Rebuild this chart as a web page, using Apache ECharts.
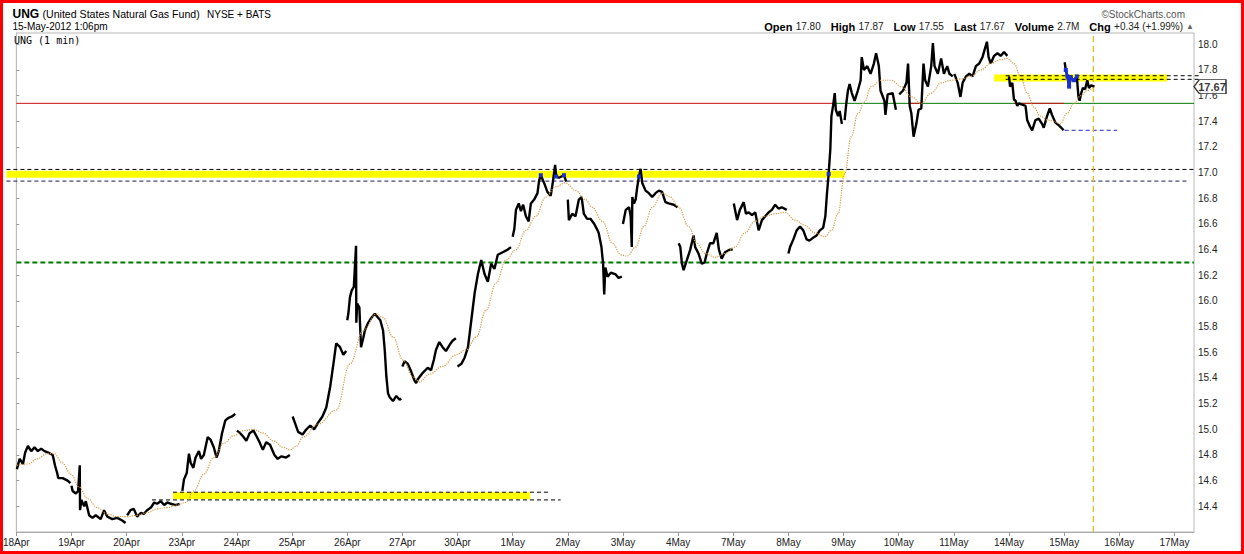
<!DOCTYPE html>
<html><head><meta charset="utf-8">
<script src="https://cdn.jsdelivr.net/npm/echarts/dist/echarts.min.js"></script>
<style>html,body{margin:0;padding:0;background:#fff}#c{width:1244px;height:554px}</style>
</head><body><div id="c"></div>
<script>
// ---- data ----
const dayLabels = ['18Apr','19Apr','20Apr','23Apr','24Apr','25Apr','26Apr','27Apr','30Apr','1May','2May','3May','4May','7May','8May','9May','10May','11May','14May','15May','16May','17May'];

// [trading-day index (fraction of session), price]
const pricePoints = [
[0.01,14.69],[0.06,14.77],[0.12,14.73],[0.16,14.82],[0.21,14.87],[0.27,14.83],[0.33,14.86],[0.39,14.83],[0.45,14.85],[0.51,14.83],[0.57,14.82],[0.66,14.80],[0.70,14.72],[0.74,14.66],[0.76,14.62],[0.84,14.62],[0.93,14.60],[0.98,14.58],
[1.00,14.56],[1.02,14.52],[1.08,14.50],[1.12,14.52],[1.15,14.72],[1.155,14.37],[1.18,14.45],[1.23,14.40],[1.26,14.44],[1.32,14.33],[1.38,14.31],[1.44,14.33],[1.53,14.30],[1.59,14.37],[1.65,14.32],[1.74,14.30],[1.83,14.31],[1.92,14.29],[1.98,14.27],
[2.01,14.33],[2.07,14.37],[2.13,14.38],[2.19,14.32],[2.26,14.35],[2.31,14.34],[2.37,14.37],[2.44,14.39],[2.50,14.43],[2.55,14.42],[2.62,14.44],[2.68,14.41],[2.74,14.43],[2.80,14.42],[2.89,14.41],[2.96,14.42],
[3.01,14.52],[3.04,14.61],[3.09,14.66],[3.13,14.81],[3.16,14.74],[3.21,14.70],[3.25,14.78],[3.31,14.83],[3.35,14.77],[3.40,14.80],[3.47,14.94],[3.52,14.92],[3.58,14.86],[3.63,14.78],[3.67,14.83],[3.73,14.97],[3.79,15.07],[3.85,15.09],[3.91,15.10],[3.97,15.12],
[4.00,14.99],[4.06,14.97],[4.12,14.94],[4.17,14.91],[4.23,14.97],[4.30,14.99],[4.35,14.95],[4.41,14.90],[4.47,14.84],[4.53,14.90],[4.60,14.88],[4.68,14.80],[4.74,14.77],[4.81,14.79],[4.89,14.78],[4.96,14.80],
[5.01,15.10],[5.06,15.04],[5.11,14.98],[5.19,14.96],[5.26,15.00],[5.33,15.03],[5.40,15.00],[5.47,15.05],[5.55,15.10],[5.62,15.17],[5.69,15.33],[5.75,15.51],[5.80,15.67],[5.87,15.64],[5.93,15.58],[5.98,15.61],
[6.00,15.85],[6.02,15.90],[6.05,16.03],[6.08,16.08],[6.12,16.11],[6.16,16.43],[6.165,15.83],[6.18,15.98],[6.22,15.95],[6.25,15.64],[6.29,15.71],[6.32,15.77],[6.38,15.83],[6.44,15.87],[6.50,15.90],[6.56,15.87],[6.60,15.85],[6.65,15.77],[6.68,15.62],[6.71,15.41],[6.74,15.28],[6.77,15.25],[6.83,15.22],[6.89,15.26],[6.95,15.23],[6.98,15.24],
[7.00,15.49],[7.04,15.53],[7.10,15.51],[7.16,15.45],[7.22,15.38],[7.25,15.36],[7.28,15.39],[7.37,15.44],[7.46,15.48],[7.52,15.46],[7.57,15.54],[7.61,15.62],[7.67,15.68],[7.73,15.64],[7.79,15.61],[7.86,15.66],[7.91,15.69],[7.97,15.71],
[8.00,15.49],[8.07,15.51],[8.13,15.56],[8.19,15.64],[8.25,15.85],[8.31,16.06],[8.37,16.21],[8.43,16.32],[8.49,16.21],[8.55,16.15],[8.61,16.29],[8.67,16.25],[8.73,16.36],[8.82,16.38],[8.91,16.40],[8.97,16.42],
[9.00,16.50],[9.03,16.56],[9.06,16.71],[9.11,16.76],[9.15,16.70],[9.19,16.75],[9.24,16.66],[9.29,16.62],[9.33,16.76],[9.39,16.79],[9.45,16.84],[9.48,16.94],[9.51,16.98],[9.57,16.92],[9.63,16.85],[9.69,16.82],[9.73,16.93],[9.77,17.06],[9.79,16.97],[9.84,16.96],[9.93,16.98],[9.97,16.93],
[10.00,16.79],[10.02,16.63],[10.08,16.68],[10.14,16.66],[10.20,16.79],[10.25,16.81],[10.29,16.68],[10.35,16.64],[10.41,16.64],[10.48,16.60],[10.54,16.55],[10.56,16.53],[10.61,16.42],[10.64,16.29],[10.66,16.05],[10.68,16.26],[10.72,16.19],[10.78,16.22],[10.86,16.21],[10.92,16.18],[10.98,16.19],
[11.00,16.60],[11.05,16.71],[11.11,16.73],[11.14,16.66],[11.16,16.42],[11.17,16.81],[11.20,16.76],[11.23,16.79],[11.26,16.89],[11.29,16.97],[11.32,17.03],[11.35,16.92],[11.41,16.86],[11.47,16.84],[11.53,16.81],[11.59,16.84],[11.65,16.86],[11.71,16.85],[11.74,16.81],[11.77,16.77],[11.83,16.76],[11.92,16.75],[11.99,16.73],
[12.01,16.45],[12.04,16.42],[12.07,16.29],[12.10,16.24],[12.16,16.32],[12.22,16.40],[12.28,16.51],[12.31,16.42],[12.37,16.37],[12.43,16.29],[12.48,16.30],[12.52,16.37],[12.58,16.45],[12.64,16.45],[12.70,16.53],[12.74,16.40],[12.79,16.33],[12.85,16.38],[12.94,16.40],[12.99,16.40],
[13.01,16.76],[13.07,16.63],[13.12,16.71],[13.19,16.77],[13.23,16.68],[13.28,16.69],[13.34,16.67],[13.40,16.69],[13.46,16.55],[13.52,16.63],[13.58,16.66],[13.64,16.69],[13.70,16.71],[13.76,16.75],[13.82,16.72],[13.88,16.73],[13.97,16.71],
[14.00,16.37],[14.03,16.42],[14.09,16.48],[14.15,16.55],[14.21,16.58],[14.27,16.55],[14.33,16.48],[14.38,16.47],[14.44,16.49],[14.51,16.51],[14.57,16.55],[14.63,16.57],[14.67,16.66],[14.70,16.84],[14.73,16.99],[14.76,17.18],[14.78,17.44],[14.81,17.52],[14.84,17.62],[14.86,17.49],[14.90,17.44],[14.93,17.48],[14.97,17.38],
[15.02,17.41],[15.05,17.54],[15.08,17.64],[15.11,17.69],[15.15,17.62],[15.20,17.56],[15.26,17.64],[15.31,17.72],[15.33,17.90],[15.37,17.80],[15.43,17.83],[15.49,17.77],[15.55,17.85],[15.59,17.93],[15.64,17.83],[15.67,17.64],[15.74,17.56],[15.76,17.45],[15.80,17.61],[15.89,17.62],[15.95,17.49],
[16.01,17.61],[16.08,17.64],[16.14,17.70],[16.17,17.85],[16.20,17.52],[16.23,17.46],[16.27,17.28],[16.32,17.38],[16.36,17.49],[16.41,17.50],[16.45,17.85],[16.48,17.72],[16.53,17.67],[16.59,17.83],[16.62,18.01],[16.65,17.83],[16.71,17.77],[16.77,17.89],[16.82,17.77],[16.88,17.83],[16.92,17.77],[16.98,17.75],
[17.01,17.77],[17.07,17.70],[17.12,17.59],[17.16,17.70],[17.22,17.75],[17.28,17.77],[17.34,17.75],[17.40,17.83],[17.46,17.85],[17.52,17.90],[17.56,17.96],[17.60,18.02],[17.63,17.90],[17.67,17.85],[17.73,17.91],[17.79,17.93],[17.85,17.91],[17.91,17.94],[17.97,17.91],
[18.00,17.75],[18.02,17.67],[18.06,17.70],[18.09,17.57],[18.12,17.56],[18.15,17.52],[18.18,17.54],[18.24,17.53],[18.30,17.52],[18.33,17.41],[18.38,17.36],[18.42,17.33],[18.48,17.41],[18.54,17.42],[18.60,17.38],[18.63,17.35],[18.69,17.44],[18.74,17.50],[18.78,17.45],[18.84,17.39],[18.90,17.37],[18.97,17.34],[18.99,17.33],
[19.01,17.86],[19.03,17.80],[19.06,17.75],[19.09,17.67],[19.12,17.74],[19.18,17.72],[19.23,17.75],[19.26,17.59],[19.28,17.56],[19.31,17.62],[19.34,17.66],[19.38,17.65],[19.42,17.72],[19.45,17.66],[19.49,17.68],[19.55,17.67]
];

// moving average overlay [day, value]
const maPoints = [
[0.01,14.72],[0.21,14.73],[0.38,14.77],[0.56,14.81],[0.69,14.81],[0.83,14.74],[0.99,14.65],[1.14,14.55],[1.29,14.46],[1.47,14.39],[1.65,14.34],[1.83,14.32],[2.01,14.32],[2.19,14.33],[2.37,14.35],[2.55,14.38],[2.74,14.39],[2.92,14.41],[3.07,14.43],[3.22,14.52],[3.40,14.65],[3.58,14.78],[3.76,14.89],[3.94,14.95],[4.12,14.99],[4.30,15.00],[4.48,14.97],[4.66,14.91],[4.84,14.86],[4.96,14.84],[5.08,14.87],[5.20,14.94],[5.47,15.04],[5.80,15.15],[6.05,15.51],[6.29,15.77],[6.53,15.90],[6.65,15.87],[6.83,15.72],[7.01,15.54],[7.19,15.41],[7.31,15.37],[7.49,15.43],[7.73,15.49],[7.97,15.58],[8.16,15.62],[8.34,15.72],[8.52,15.93],[8.70,16.14],[8.88,16.32],[9.06,16.40],[9.24,16.55],[9.42,16.66],[9.60,16.81],[9.78,16.89],[9.96,16.92],[10.14,16.86],[10.32,16.79],[10.44,16.73],[10.63,16.62],[10.81,16.45],[10.96,16.36],[11.08,16.35],[11.23,16.42],[11.38,16.58],[11.53,16.73],[11.71,16.84],[11.86,16.81],[12.01,16.73],[12.19,16.58],[12.34,16.45],[12.49,16.37],[12.67,16.34],[12.85,16.37],[13.03,16.42],[13.21,16.53],[13.39,16.62],[13.57,16.66],[13.76,16.68],[13.94,16.69],[14.12,16.63],[14.30,16.59],[14.48,16.53],[14.66,16.50],[14.78,16.55],[14.90,16.68],[15.02,16.99],[15.14,17.28],[15.26,17.46],[15.38,17.55],[15.50,17.67],[15.68,17.72],[15.86,17.72],[16.05,17.67],[16.23,17.59],[16.41,17.54],[16.59,17.62],[16.77,17.70],[16.95,17.72],[17.13,17.73],[17.31,17.75],[17.49,17.80],[17.67,17.85],[17.85,17.88],[17.97,17.89],[18.09,17.85],[18.21,17.75],[18.33,17.62],[18.45,17.51],[18.57,17.44],[18.70,17.41],[18.81,17.40],[18.93,17.38],[19.05,17.46],[19.18,17.54],[19.30,17.60],[19.42,17.64],[19.54,17.67]
];

// annotation levels: [startDay, endDay, price]
const yellowBands = [[-0.18, 15.02, 16.987], [2.84, 9.32, 14.483], [17.73, 20.87, 17.737]];
const blackDashed = [[-0.18, 21.355, 17.025], [2.84, 9.66, 14.51], [2.46, 9.87, 14.45], [17.94, 21.47, 17.755], [17.94, 21.47, 17.727]];
const navyDashed = [[-0.18, 21.25, 16.934]];
const greenDashed = [[0, 21.355, 16.30]];
const blueDashed = [[19.01, 19.96, 17.33]];
const redSpans = [[0, 14.82, 17.54], [16.17, 16.41, 17.54], [18.09, 19.0, 17.54]];
const greenSpans = [[14.82, 21.355, 17.54]];
const blueRanges = [[9.50, 9.52], [9.78, 9.80], [9.92, 9.94], [11.28, 11.30], [14.72, 14.74], [19.02, 19.24]];
const nowDay = 19.53;
const lastPrice = 17.67;
const quoteFields = [['Open','17.80'],['High','17.87'],['Low','17.55'],['Last','17.67'],['Volume','2.7M'],['Chg','+0.34 (+1.99%)']];

const X_MAX = 21.355, Y_MIN = 14.2, Y_MAX = 18.088;

// ---- build ----
function withDayBreaks(points) {
  const out = []; let prev = null;
  for (const p of points) {
    const d = Math.floor(p[0] + 1e-9);
    if (prev !== null && d !== prev) out.push([p[0] - 0.005, '-']);
    out.push(p); prev = d;
  }
  return out;
}
const blueData = [];
blueRanges.forEach((r, i) => {
  if (i > 0) blueData.push([r[0] - 0.005, '-']);
  pricePoints.filter(p => p[0] >= r[0] && p[0] <= r[1]).forEach(p => blueData.push(p));
});

const FONT = '"Liberation Sans", Arial, sans-serif';
const series = [{
    type: 'line', data: [[nowDay, Y_MIN], [nowDay, Y_MAX]], symbol: 'none', silent: true,
    lineStyle: {color: '#e0bb20', width: 1.3, type: [6, 4]}, z: 2, animation: false
  }, {
    type: 'line', name: 'UNG', data: withDayBreaks(pricePoints), symbol: 'none', connectNulls: false,
    lineStyle: {color: '#000', width: 2.4}, z: 3, animation: false
  }, {
    type: 'line', name: 'MA', data: maPoints, symbol: 'none', smooth: 0.4, smoothMonotone: 'x',
    lineStyle: {color: '#d69a45', width: 1.2, type: 'dotted'}, z: 4, animation: false
  }, {
    type: 'line', name: 'hl', data: blueData, symbol: 'rect', symbolSize: 4, showAllSymbol: true, connectNulls: false,
    itemStyle: {color: '#1a2fd6'}, lineStyle: {color: '#1a2fd6', width: 2.5}, z: 5, animation: false
  }, {
    type: 'scatter', data: [[X_MAX, lastPrice]], clip: false, silent: true, z: 20, animation: false,
    symbol: 'path://M0,6 L6,0 L36,0 L36,12 L6,12 Z', symbolSize: [32, 14], symbolOffset: [16, 0],
    itemStyle: {color: '#fff', borderColor: '#000', borderWidth: 1},
    label: {show: true, position: 'inside', offset: [2, 0], formatter: p => p.value[1].toFixed(2),
            fontFamily: FONT, fontSize: 11, fontWeight: 'bold', color: '#000'}
  }];

const quoteRich = quoteFields.map(f => '{b|' + f[0] + '} {v|' + f[1] + '}').join('   ');

const chart = echarts.init(document.getElementById('c'), null, {renderer: 'svg'});
chart.setOption({
  animation: false,
  backgroundColor: '#fff',
  grid: {left: 12, right: 50, top: 33, bottom: 22, show: true, borderColor: '#b8b8b8', borderWidth: 1, containLabel: false},
  xAxis: {
    type: 'value', min: 0, max: X_MAX, interval: 1,
    axisLine: {show: true, lineStyle: {color: '#aaa'}},
    axisTick: {show: true, length: 4, lineStyle: {color: '#999'}},
    splitLine: {show: false},
    axisLabel: {showMaxLabel: false, margin: 5, fontFamily: FONT, fontSize: 10, color: '#222',
      formatter: v => (Math.abs(v - Math.round(v)) < 1e-6 && dayLabels[Math.round(v)]) ? dayLabels[Math.round(v)] : ''}
  },
  yAxis: {
    type: 'value', position: 'right', min: Y_MIN, max: Y_MAX, interval: 0.2, scale: true,
    axisLine: {show: true, lineStyle: {color: '#bbb', type: 'dotted'}},
    axisTick: {show: true, length: 3, lineStyle: {color: '#999'}},
    splitLine: {show: false},
    axisLabel: {showMinLabel: false, showMaxLabel: false, margin: 4, fontFamily: FONT, fontSize: 10, color: '#222',
      formatter: v => v.toFixed(1)}
  },
  series: series
});

// horizontal annotation levels, placed through the chart's own scales
const px = (d, v) => chart.convertToPixel({gridIndex: 0}, [d, v]);
function segLines(list, style, z) {
  return list.map(s => {
    const a = px(s[0], s[2]), b = px(s[1], s[2]);
    return {type: 'line', silent: true, z: z, shape: {x1: a[0], y1: a[1], x2: b[0], y2: b[1]}, style: style};
  });
}
const graphics = [].concat(
  segLines(yellowBands, {stroke: '#ffff00', lineWidth: 7, lineCap: 'butt'}, 1),
  segLines(greenSpans, {stroke: '#007a00', lineWidth: 1}, 1),
  segLines(redSpans, {stroke: '#cc1010', lineWidth: 1}, 1),
  segLines(greenDashed, {stroke: '#007a00', lineWidth: 2, lineDash: [5, 3]}, 1),
  segLines(blackDashed, {stroke: '#000000', lineWidth: 1, lineDash: [4, 3]}, 1),
  segLines(navyDashed, {stroke: '#1a1a66', lineWidth: 1, lineDash: [4, 3]}, 1),
  segLines(blueDashed, {stroke: '#2222cc', lineWidth: 1, lineDash: [4, 3]}, 1),
  [
    {type: 'text', x: 12.5, y: 13.5, z: 50, style: {text: 'UNG', font: 'bold 12px ' + FONT, fill: '#000', textVerticalAlign: 'middle'}},
    {type: 'text', x: 42.5, y: 14, z: 50, style: {text: '(United States Natural Gas Fund)', font: '10.6px ' + FONT, fill: '#000', textVerticalAlign: 'middle'}},
    {type: 'text', x: 207, y: 14, z: 50, style: {text: 'NYSE + BATS', font: '10px ' + FONT, fill: '#000', textVerticalAlign: 'middle'}},
    {type: 'text', x: 12.5, y: 26.5, z: 50, style: {text: '15-May-2012 1:06pm', font: '10px ' + FONT, fill: '#000', textVerticalAlign: 'middle'}},
    {type: 'text', x: 14, y: 40, z: 50, style: {text: 'UNG (1 min)', font: '10px "DejaVu Sans Mono", monospace', fill: '#000', textVerticalAlign: 'middle'}},
    {type: 'text', x: 1185, y: 14, z: 50, style: {text: '\u00A9StockCharts.com', font: '10px ' + FONT, fill: '#555', textAlign: 'right', textVerticalAlign: 'middle'}},
    {type: 'text', x: 1183, y: 26.5, z: 50, style: {text: quoteRich, textAlign: 'right', textVerticalAlign: 'middle',
      rich: {b: {font: 'bold 11px ' + FONT, fill: '#000'}, v: {font: '10px ' + FONT, fill: '#222'}}}},
    {type: 'text', x: 1186, y: 26.5, z: 50, style: {text: '\u25B2', font: '8px ' + FONT, fill: '#666', textVerticalAlign: 'middle'}},
    {type: 'rect', shape: {x: 1.5, y: 1.5, width: 1241, height: 551}, style: {fill: 'none', stroke: '#ff0000', lineWidth: 3}, z: 100, silent: true}
  ]
);
chart.setOption({graphic: graphics});
</script>
</body></html>
